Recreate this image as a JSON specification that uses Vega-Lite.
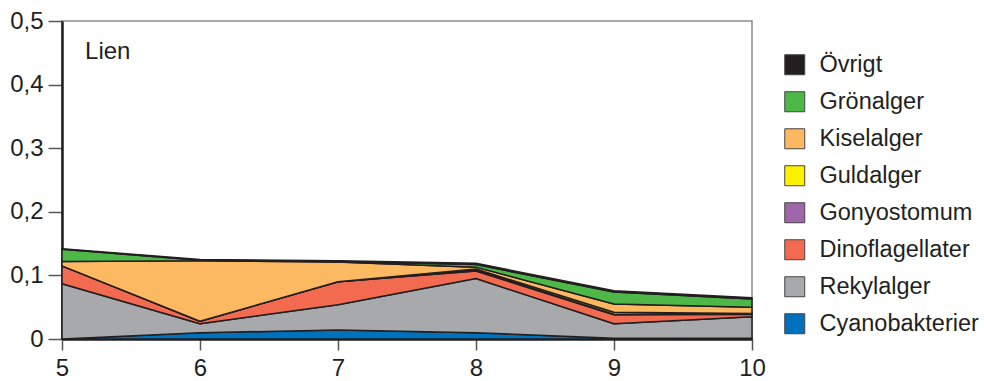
{
  "$schema": "https://vega.github.io/schema/vega-lite/v6.json",
  "autosize": {"type": "none"},
  "padding": {"left": 62, "top": 21, "right": 232, "bottom": 42},
  "width": 690,
  "height": 318,
  "config": {
    "font": "Liberation Sans",
    "view": {"stroke": "#8a8a8a", "strokeWidth": 1.5}
  },
  "layer": [
    {
      "data": {
        "values": [
          {"x": 5, "group": "Cyanobakterier", "v": 0.000},
          {"x": 5, "group": "Rekylalger", "v": 0.087},
          {"x": 5, "group": "Dinoflagellater", "v": 0.028},
          {"x": 5, "group": "Gonyostomum", "v": 0.000},
          {"x": 5, "group": "Guldalger", "v": 0.000},
          {"x": 5, "group": "Kiselalger", "v": 0.007},
          {"x": 5, "group": "Grönalger", "v": 0.019},
          {"x": 5, "group": "Övrigt", "v": 0.001},
          {"x": 6, "group": "Cyanobakterier", "v": 0.010},
          {"x": 6, "group": "Rekylalger", "v": 0.014},
          {"x": 6, "group": "Dinoflagellater", "v": 0.004},
          {"x": 6, "group": "Gonyostomum", "v": 0.000},
          {"x": 6, "group": "Guldalger", "v": 0.000},
          {"x": 6, "group": "Kiselalger", "v": 0.095},
          {"x": 6, "group": "Grönalger", "v": 0.001},
          {"x": 6, "group": "Övrigt", "v": 0.001},
          {"x": 7, "group": "Cyanobakterier", "v": 0.014},
          {"x": 7, "group": "Rekylalger", "v": 0.040},
          {"x": 7, "group": "Dinoflagellater", "v": 0.036},
          {"x": 7, "group": "Gonyostomum", "v": 0.000},
          {"x": 7, "group": "Guldalger", "v": 0.000},
          {"x": 7, "group": "Kiselalger", "v": 0.031},
          {"x": 7, "group": "Grönalger", "v": 0.001},
          {"x": 7, "group": "Övrigt", "v": 0.001},
          {"x": 8, "group": "Cyanobakterier", "v": 0.010},
          {"x": 8, "group": "Rekylalger", "v": 0.085},
          {"x": 8, "group": "Dinoflagellater", "v": 0.012},
          {"x": 8, "group": "Gonyostomum", "v": 0.001},
          {"x": 8, "group": "Guldalger", "v": 0.002},
          {"x": 8, "group": "Kiselalger", "v": 0.003},
          {"x": 8, "group": "Grönalger", "v": 0.004},
          {"x": 8, "group": "Övrigt", "v": 0.002},
          {"x": 9, "group": "Cyanobakterier", "v": 0.001},
          {"x": 9, "group": "Rekylalger", "v": 0.023},
          {"x": 9, "group": "Dinoflagellater", "v": 0.014},
          {"x": 9, "group": "Gonyostomum", "v": 0.001},
          {"x": 9, "group": "Guldalger", "v": 0.003},
          {"x": 9, "group": "Kiselalger", "v": 0.013},
          {"x": 9, "group": "Grönalger", "v": 0.019},
          {"x": 9, "group": "Övrigt", "v": 0.002},
          {"x": 10, "group": "Cyanobakterier", "v": 0.001},
          {"x": 10, "group": "Rekylalger", "v": 0.034},
          {"x": 10, "group": "Dinoflagellater", "v": 0.004},
          {"x": 10, "group": "Gonyostomum", "v": 0.000},
          {"x": 10, "group": "Guldalger", "v": 0.001},
          {"x": 10, "group": "Kiselalger", "v": 0.010},
          {"x": 10, "group": "Grönalger", "v": 0.013},
          {"x": 10, "group": "Övrigt", "v": 0.002}
        ]
      },
      "transform": [
        {"calculate": "indexof(['Cyanobakterier','Rekylalger','Dinoflagellater','Gonyostomum','Guldalger','Kiselalger','Grönalger','Övrigt'], datum.group)", "as": "ord"}
      ],
      "mark": {"type": "area", "stroke": "#231f20", "strokeWidth": 1.5, "strokeJoin": "round", "opacity": 1},
      "encoding": {
        "x": {
          "field": "x", "type": "quantitative",
          "scale": {"domain": [5, 10], "nice": false, "zero": false},
          "axis": {
            "title": null, "values": [5, 6, 7, 8, 9, 10], "format": "d", "grid": false,
            "domainColor": "#231f20", "domainWidth": 2.5,
            "tickColor": "#555", "tickWidth": 1.5, "tickSize": 11,
            "labelFontSize": 24, "labelColor": "#231f20", "labelPadding": 6,
            "labelFlush": false
          }
        },
        "y": {
          "field": "v", "type": "quantitative", "stack": "zero",
          "scale": {"domain": [0, 0.5], "nice": false},
          "axis": {
            "title": null, "grid": false,
            "values": [0, 0.05, 0.1, 0.15, 0.2, 0.25, 0.3, 0.35, 0.4, 0.45, 0.5],
            "labelExpr": "datum.value == 0 ? '0' : (round(datum.value * 100) % 10 == 0 ? replace(format(datum.value, '.1f'), '.', ',') : '')",
            "tickSize": {"condition": {"test": "round(datum.value * 100) % 10 == 0", "value": 14}, "value": 7},
            "domainColor": "#231f20", "domainWidth": 2.5,
            "tickColor": "#555", "tickWidth": 1.5,
            "labelFontSize": 24, "labelColor": "#231f20", "labelPadding": 5,
            "labelFlush": false
          }
        },
        "color": {
          "field": "group", "type": "nominal",
          "scale": {
            "domain": ["Cyanobakterier", "Rekylalger", "Dinoflagellater", "Gonyostomum", "Guldalger", "Kiselalger", "Grönalger", "Övrigt"],
            "range": ["#0071bc", "#a7a9ac", "#f26b50", "#a066aa", "#fff200", "#fdb862", "#4db848", "#231f20"]
          },
          "legend": {
            "title": null, "orient": "none", "legendX": 721, "legendY": 32,
            "values": ["Övrigt", "Grönalger", "Kiselalger", "Guldalger", "Gonyostomum", "Dinoflagellater", "Rekylalger", "Cyanobakterier"],
            "symbolType": "square", "symbolSize": 400, "symbolStrokeColor": "#444", "symbolStrokeWidth": 1,
            "symbolOpacity": 1,
            "labelFontSize": 23.5, "labelColor": "#231f20", "labelOffset": 13,
            "rowPadding": 12, "padding": 0
          }
        },
        "order": {"field": "ord", "type": "quantitative"}
      }
    },
    {
      "data": {"values": [{"x": 5.167, "y": 0.451, "label": "Lien"}]},
      "mark": {"type": "text", "align": "left", "baseline": "middle", "fontSize": 24, "color": "#231f20"},
      "encoding": {
        "x": {"field": "x", "type": "quantitative"},
        "y": {"field": "y", "type": "quantitative"},
        "text": {"field": "label"}
      }
    }
  ]
}
